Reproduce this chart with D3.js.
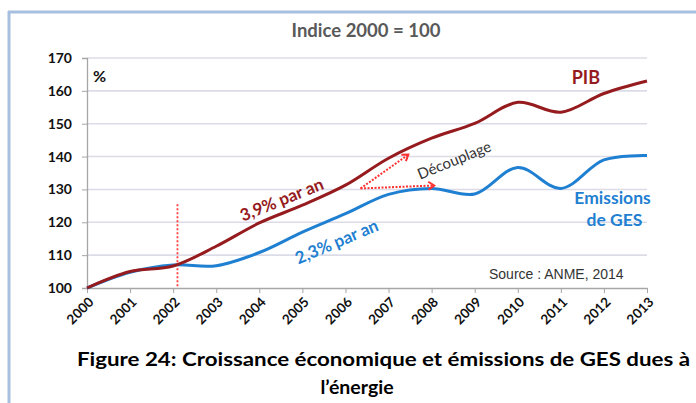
<!DOCTYPE html>
<html>
<head>
<meta charset="utf-8">
<script src="https://cdn.jsdelivr.net/npm/d3@7"></script>
<style>
  body { margin: 0; background: #fff; }
  svg { display: block; font-family: Lato, "Noto Sans", sans-serif; }
</style>
</head>
<body>
<svg width="696" height="403"></svg>
<script>
  const years = [2000, 2001, 2002, 2003, 2004, 2005, 2006, 2007, 2008, 2009, 2010, 2011, 2012, 2013];
  const pib = [100, 105.0, 106.7, 112.7, 119.8, 125.2, 131.3, 139.5, 145.6, 150.1, 156.5, 153.5, 159.2, 163.0];
  const emissions = [100, 104.8, 107.0, 106.8, 110.8, 117.0, 122.6, 128.5, 130.3, 128.6, 136.7, 130.3, 139.0, 140.3];
  const yTicks = [100, 110, 120, 130, 140, 150, 160, 170];

  // annotations in data space
  const splitYear = 2002.1;
  const arrowFrom = [2006.35, 130.3];
  const arrowTo = [[2007.46, 140.6], [2008.06, 131.2]];

  const svg = d3.select('svg');
  const margin = { top: 58, left: 87 };
  const width = 560, height = 230;

  const x = d3.scaleLinear().domain([2000, 2013]).range([margin.left, margin.left + width]);
  const y = d3.scaleLinear().domain([100, 170]).range([margin.top + height, margin.top]);

  const red = '#961b1e', blue = '#1f7fd1';

  // frame
  svg.append('line').attr('x1', 9).attr('x2', 9).attr('y1', 11).attr('y2', 403)
    .attr('stroke', '#a7c0e0').attr('stroke-width', 3);
  svg.append('line').attr('x1', 8).attr('x2', 696).attr('y1', 12).attr('y2', 12)
    .attr('stroke', '#a7c0e0').attr('stroke-width', 3);

  // title
  svg.append('text').attr('x', 366).attr('y', 37).attr('text-anchor', 'middle')
    .attr('font-size', 18.5).attr('font-weight', 'bold').attr('fill', '#595959')
    .text('Indice 2000 = 100');

  // gridlines
  svg.append('g').selectAll('line').data(yTicks.filter(d => d > 100)).enter().append('line')
    .attr('x1', x(2000)).attr('x2', x(2013))
    .attr('y1', d => y(d)).attr('y2', d => y(d))
    .attr('stroke', '#dcdce8').attr('stroke-width', 1.6);

  // y axis
  const yAxis = svg.append('g').attr('transform', `translate(${x(2000)},0)`)
    .call(d3.axisLeft(y).tickValues(yTicks).tickSize(5).tickPadding(10));
  yAxis.select('.domain').attr('stroke', '#a6a6a6').attr('stroke-width', 1.3);
  yAxis.selectAll('.tick line').attr('stroke', '#a6a6a6');
  yAxis.selectAll('.tick text').attr('font-size', 14).attr('font-weight', 'bold')
    .attr('fill', '#111').attr('font-family', 'Lato, sans-serif');

  // x axis
  const xAxis = svg.append('g').attr('transform', `translate(0,${y(100)})`)
    .call(d3.axisBottom(x).tickValues(years).tickFormat(d3.format('d')).tickSize(5).tickSizeOuter(0));
  xAxis.select('.domain').attr('stroke', '#a6a6a6').attr('stroke-width', 1.3);
  xAxis.selectAll('.tick line').attr('stroke', '#a6a6a6');
  xAxis.selectAll('.tick text')
    .attr('font-size', 13.5).attr('font-weight', 'bold').attr('fill', '#111')
    .attr('font-family', 'Lato, sans-serif')
    .attr('text-anchor', 'end').attr('dy', null).attr('y', 0)
    .attr('transform', 'translate(7,15) rotate(-45)');

  // split marker
  svg.append('line').attr('x1', x(splitYear)).attr('x2', x(splitYear))
    .attr('y1', y(125.5)).attr('y2', y(100))
    .attr('stroke', '#ff3b3b').attr('stroke-width', 1.8).attr('stroke-dasharray', '2,2');

  // lines
  const line = d3.line().x((d, i) => x(years[i])).y(d => y(d)).curve(d3.curveCatmullRom.alpha(0.5));
  svg.append('path').datum(emissions).attr('d', line)
    .attr('fill', 'none').attr('stroke', blue).attr('stroke-width', 3);
  svg.append('path').datum(pib).attr('d', line)
    .attr('fill', 'none').attr('stroke', red).attr('stroke-width', 3);

  // arrows
  const arrowG = svg.append('g');
  arrowTo.forEach(t => {
    const x0 = x(arrowFrom[0]), y0 = y(arrowFrom[1]);
    const x1 = x(t[0]), y1 = y(t[1]);
    arrowG.append('line').attr('x1', x0).attr('y1', y0).attr('x2', x1).attr('y2', y1)
      .attr('stroke', '#ff3030').attr('stroke-width', 2).attr('stroke-dasharray', '2,1.5');
    const a = Math.atan2(y1 - y0, x1 - x0);
    const h = 7;
    const p = [
      [x1 - h * Math.cos(a - 0.6), y1 - h * Math.sin(a - 0.6)],
      [x1, y1],
      [x1 - h * Math.cos(a + 0.6), y1 - h * Math.sin(a + 0.6)]
    ];
    arrowG.append('path').attr('d', d3.line()(p))
      .attr('fill', 'none').attr('stroke', '#ff3030').attr('stroke-width', 2);
  });

  // labels
  svg.append('text').attr('transform', `translate(${x(2004.57)},${y(125.2)}) rotate(-22)`)
    .attr('text-anchor', 'middle').attr('font-size', 17).attr('font-weight', 'bold').attr('fill', red)
    .text('3,9% par an');
  svg.append('text').attr('transform', `translate(${x(2005.85)},${y(112.4)}) rotate(-23)`)
    .attr('text-anchor', 'middle').attr('font-size', 17).attr('font-weight', 'bold').attr('fill', blue)
    .text('2,3% par an');
  svg.append('text').attr('transform', `translate(${x(2008.57)},${y(137.4)}) rotate(-22)`)
    .attr('text-anchor', 'middle').attr('font-size', 15).attr('fill', '#333')
    .text('Découplage');
  svg.append('text').attr('x', x(2011.58)).attr('y', y(162.0)).attr('text-anchor', 'middle')
    .attr('font-size', 18).attr('font-weight', 'bold').attr('fill', red).text('PIB');
  svg.append('text').attr('x', 612.5).attr('y', 204).attr('text-anchor', 'middle')
    .attr('font-size', 17.5).attr('font-weight', 'bold').attr('fill', blue).text('Emissions');
  svg.append('text').attr('x', 614.5).attr('y', 226).attr('text-anchor', 'middle')
    .attr('font-size', 17.5).attr('font-weight', 'bold').attr('fill', blue).text('de GES');
  svg.append('text').attr('x', 489).attr('y', 279)
    .attr('font-family', '"Liberation Sans", Arial, sans-serif')
    .attr('font-size', 14).attr('fill', '#333').text('Source : ANME, 2014');
  svg.append('text').attr('x', 93).attr('y', 82)
    .attr('font-size', 16).attr('font-weight', 'bold').attr('fill', '#111').text('%');

  // caption
  svg.append('text').attr('x', 77).attr('y', 366)
    .attr('font-size', 19).attr('font-weight', 'bold').attr('fill', '#000')
    .attr('textLength', 613).attr('lengthAdjust', 'spacingAndGlyphs')
    .text('Figure 24: Croissance économique et émissions de GES dues à');
  svg.append('text').attr('x', 357).attr('y', 394).attr('text-anchor', 'middle')
    .attr('font-size', 19.5).attr('font-weight', 'bold').attr('fill', '#000')
    .text('l’énergie');
</script>
</body>
</html>
